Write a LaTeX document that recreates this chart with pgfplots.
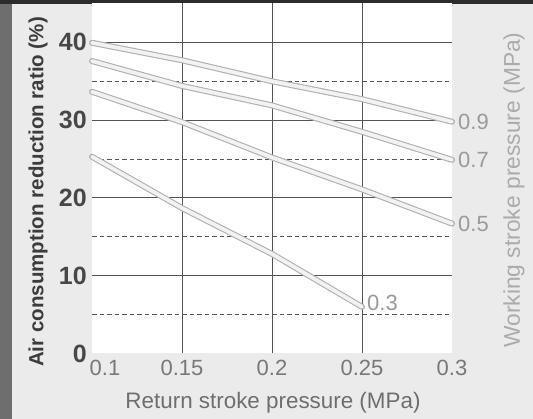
\documentclass[border=0pt]{standalone}
\usepackage{pgfplots}
\pgfplotsset{compat=1.18}
\usepackage{fontspec}
\setmainfont{Liberation Sans}
\definecolor{bgdark}{HTML}{2C2C2C}
\definecolor{bgleft}{HTML}{6E6E6E}
\definecolor{panel}{HTML}{EBEBEB}
\definecolor{gridc}{HTML}{555555}
\definecolor{ytickc}{HTML}{474747}
\definecolor{ylabc}{HTML}{3C3C3C}
\definecolor{xtickc}{HTML}{787878}
\definecolor{xlabc}{HTML}{6E6E6E}
\definecolor{rlabc}{HTML}{ABABAB}
\definecolor{linelab}{HTML}{9A9A9A}
\definecolor{tubeedge}{HTML}{B0B0B0}
\definecolor{tubein}{HTML}{F2F2F2}
\pgfplotsset{
  tube/.style={draw=tubeedge, line width=1.1pt, double=tubein, double distance=3.8pt, line join=round, line cap=round, mark=none}
}
\begin{document}
\begin{tikzpicture}[x=1pt,y=1pt]
\useasboundingbox (0,0) rectangle (533,419);
\fill[bgdark] (0,0) rectangle (533,419);
\fill[bgleft] (0,0) rectangle (12,415);
\fill[panel] (12,0) rectangle (533,415);
\begin{axis}[
  at={(92pt,65.5pt)}, anchor=south west,
  width=360pt, height=350pt, scale only axis,
  xmin=0.1, xmax=0.3, ymin=0, ymax=45,
  axis background/.style={fill=white},
  axis line style={draw=none},
  major tick length=0pt, minor tick length=0pt,
  xtick={0.1,0.15,0.2,0.25,0.3},
  xticklabels={\hspace*{26pt}0.1,0.15,0.2,0.25,0.3},
  xticklabel style={font=\fontsize{22}{22}\selectfont, text=xtickc, inner sep=0pt, yshift=-6.5pt, anchor=north},
  ytick={0,10,20,30,40},
  yticklabel style={font=\bfseries\fontsize{25}{25}\selectfont, text=ytickc, inner sep=0pt, xshift=-5pt, anchor=east},
  /pgf/number format/assume math mode=true,
  extra x ticks={0.15,0.2,0.25},
  extra x tick labels={},
  extra x tick style={grid=major, major grid style={draw=gridc, line width=1pt}},
  extra y ticks={10,20,30,40},
  extra y tick labels={},
  extra y tick style={grid=major, major grid style={draw=gridc, line width=1pt}},
  minor ytick={5,15,25,35},
  yminorgrids=true,
  minor grid style={draw=gridc, line width=0.85pt, dash pattern=on 4.5pt off 3pt},
  clip=false,
]
\addplot[tube] coordinates {(0.1,39.95)(0.15,37.7)(0.2,35.0)(0.25,32.7)(0.3,29.8)};
\addplot[tube] coordinates {(0.1,37.6)(0.15,34.4)(0.2,31.9)(0.25,28.5)(0.3,24.9)};
\addplot[tube] coordinates {(0.1,33.65)(0.15,29.75)(0.2,25.2)(0.25,21.1)(0.3,16.7)};
\addplot[tube] coordinates {(0.1,25.3)(0.15,18.7)(0.2,12.8)(0.25,6.0)};
\node[anchor=west, inner sep=0pt, text=linelab, font=\fontsize{22}{22}\selectfont] at (axis cs:0.3,29.8) {\hspace*{6pt}0.9};
\node[anchor=west, inner sep=0pt, text=linelab, font=\fontsize{22}{22}\selectfont] at (axis cs:0.3,24.9) {\hspace*{6pt}0.7};
\node[anchor=west, inner sep=0pt, text=linelab, font=\fontsize{22}{22}\selectfont] at (axis cs:0.3,16.7) {\hspace*{6pt}0.5};
\node[anchor=west, inner sep=0pt, text=linelab, font=\fontsize{22}{22}\selectfont, yshift=4pt] at (axis cs:0.25,6.0) {\hspace*{5pt}0.3};
\end{axis}
\node[rotate=90, text=ylabc, font=\bfseries\fontsize{20.5}{20.5}\selectfont] at (38,227) {Air consumption reduction ratio (\%)};
\node[text=xlabc, font=\fontsize{22.4}{22.4}\selectfont] at (273,16) {Return stroke pressure (MPa)};
\node[rotate=90, text=rlabc, font=\fontsize{22.8}{22.8}\selectfont] at (514,229) {Working stroke pressure (MPa)};
\end{tikzpicture}
\end{document}
